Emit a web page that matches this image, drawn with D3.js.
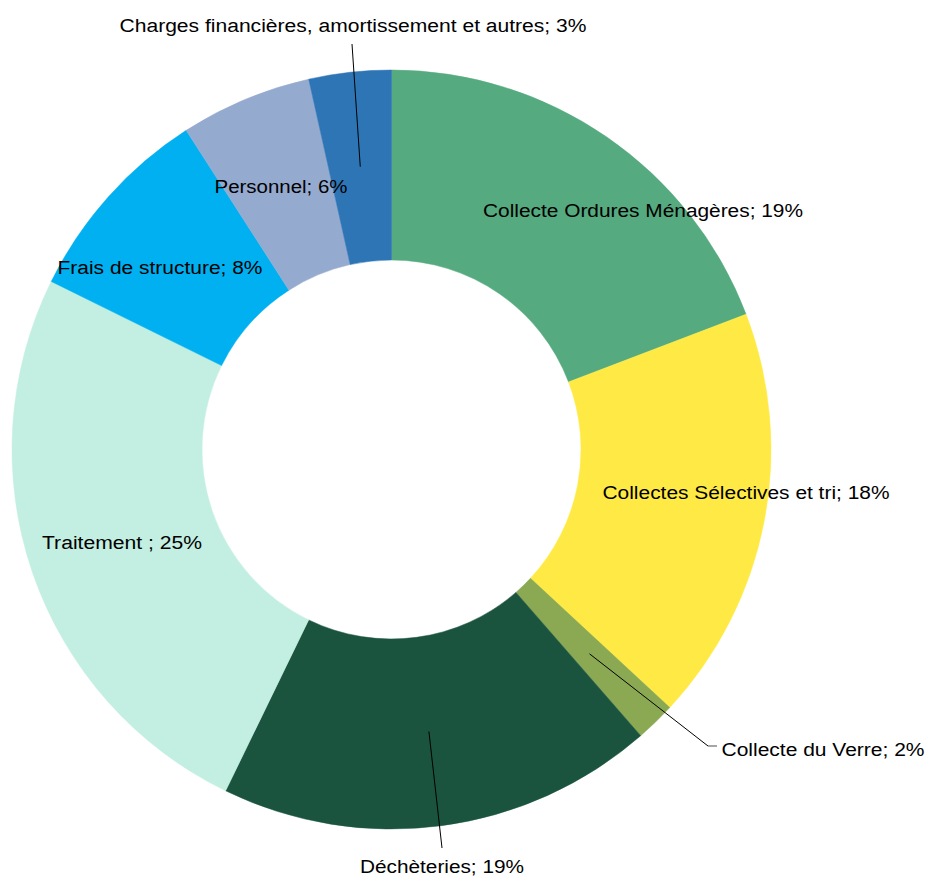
<!DOCTYPE html>
<html>
<head>
<meta charset="utf-8">
<script src="https://cdn.jsdelivr.net/npm/d3@7"></script>
<style>
  body { margin: 0; background: #fff; }
  text { font-family: "Liberation Sans", Arial, sans-serif; font-size: 18px; fill: #000; }
</style>
</head>
<body>
<div id="viz"></div>
<script>
// data
const categories = ["Collecte Ordures Ménagères", "Collectes Sélectives et tri", "Collecte du Verre",
  "Déchèteries", "Traitement ", "Frais de structure", "Personnel", "Charges financières, amortissement et autres"];
const shares = [19.2, 17.7, 1.7, 18.6, 25.1, 8.6, 5.6, 3.5];
const shareLabels = ["19%", "18%", "2%", "19%", "25%", "8%", "6%", "3%"];
const colors = ["#56AA7F", "#FFEA45", "#8AA952", "#1A543F", "#C2EFE1", "#00B0F0", "#95AACF", "#2E75B6"];

// label layout: [center x, baseline y, text width]
const labelLayout = [[643, 217, 320], [746, 499, 287], [823, 756, 203], [442, 873, 164],
  [122, 549, 160], [160, 274, 205], [281, 193, 133], [353, 32, 467]];
// leader line end near label (null = no leader)
const leaderEnds = [null, null, [[708, 746], [717, 746]], [[442, 848]], null, null, null, [[352, 44]]];

const width = 932, height = 877;
const cx = 391.5, cy = 449.5, outerR = 379.5, innerR = 189.5;

const svg = d3.select("#viz").append("svg").attr("width", width).attr("height", height);
const g = svg.append("g").attr("transform", `translate(${cx},${cy})`);

const pie = d3.pie().sort(null).value(d => d)(shares);
const arc = d3.arc().innerRadius(innerR).outerRadius(outerR);

g.selectAll("path.slice").data(pie).enter().append("path")
  .attr("class", "slice")
  .attr("d", arc)
  .attr("fill", (d, i) => colors[i])
  .attr("stroke", (d, i) => colors[i])
  .attr("stroke-width", 0.5);

// leader lines
pie.forEach((d, i) => {
  if (!leaderEnds[i]) return;
  const c = arc.centroid(d);
  const pts = [[c[0] + cx, c[1] + cy], ...leaderEnds[i]];
  svg.append("line")
    .attr("x1", pts[0][0]).attr("y1", pts[0][1])
    .attr("x2", pts[1][0]).attr("y2", pts[1][1])
    .attr("stroke", "#000").attr("stroke-width", 1);
  if (pts.length > 2) {
    svg.append("line")
      .attr("x1", pts[1][0]).attr("y1", pts[1][1])
      .attr("x2", pts[2][0]).attr("y2", pts[2][1])
      .attr("stroke", "#888").attr("stroke-width", 1.5);
  }
});

// labels
svg.selectAll("text.lbl").data(categories).enter().append("text")
  .attr("class", "lbl")
  .attr("x", (d, i) => labelLayout[i][0])
  .attr("y", (d, i) => labelLayout[i][1])
  .attr("text-anchor", "middle")
  .attr("textLength", (d, i) => labelLayout[i][2])
  .attr("lengthAdjust", "spacingAndGlyphs")
  .text((d, i) => d + "; " + shareLabels[i]);
</script>
</body>
</html>
